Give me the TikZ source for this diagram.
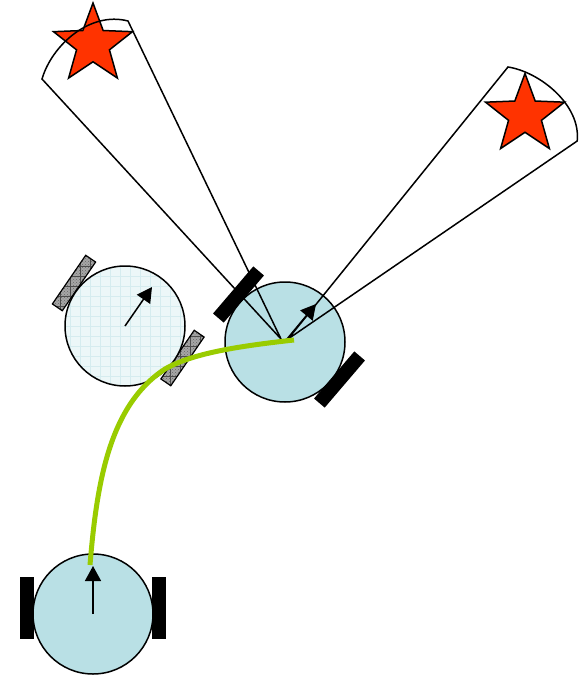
\documentclass[tikz,border=0pt]{standalone}
\usepackage{tikz}
\usetikzlibrary{arrows.meta, shapes.geometric, patterns}
\definecolor{Micuerpo}{RGB}{185,224,229}
\definecolor{Miclaro}{RGB}{236,247,248}
\definecolor{Mirojo}{RGB}{255,51,0}
\definecolor{Miverde}{RGB}{153,204,0}
\pgfdeclarepatternformonly{rejilla}{\pgfqpoint{-1pt}{-1pt}}{\pgfqpoint{10pt}{10pt}}{\pgfqpoint{10pt}{10pt}}{
  \pgfsetlinewidth{1pt}
  \pgfpathmoveto{\pgfqpoint{0pt}{-1pt}}\pgfpathlineto{\pgfqpoint{0pt}{10pt}}
  \pgfpathmoveto{\pgfqpoint{-1pt}{0pt}}\pgfpathlineto{\pgfqpoint{10pt}{0pt}}
  \pgfusepath{stroke}
}
\begin{document}
\begin{tikzpicture}[
  x=1pt, y=-1pt,
  cuerpo/.style={
    circle, draw=black, line width=1.5pt,
    minimum size=120pt, inner sep=0pt, fill=Micuerpo
  },
  fantasma/.style={
    circle, draw=black, line width=1.5pt,
    minimum size=120pt, inner sep=0pt,
    preaction={fill=Miclaro},
    preaction={pattern=rejilla, pattern color=Micuerpo!60}
  },
  rueda/.style={
    rectangle, fill=black, inner sep=0pt,
    minimum width=62pt, minimum height=14pt
  },
  ruedagris/.style={
    rectangle, draw=black, line width=1.2pt, inner sep=0pt,
    minimum width=59pt, minimum height=12pt,
    preaction={fill=gray!70},
    preaction={pattern=crosshatch dots, pattern color=black!60},
    preaction={pattern=rejilla, pattern color=black!70}
  },
  estrella/.style={
    star, star points=5, star point ratio=2.4, draw=black, line width=1.5pt,
    fill=Mirojo, minimum size=83pt, inner sep=0pt
  },
  rumbo/.style={-{Triangle[length=15pt, width=16pt]}, line width=1.5pt, draw=black},
  vista/.style={draw=black, line width=1.5pt, line join=miter},
  trayectoria/.style={draw=Miverde, line width=5pt}
]
  \useasboundingbox (0,0) rectangle (578,677);

  % --- Robot inicial ---
  \node[rueda, rotate=90] (ruedaA) at (27,608) {};
  \node[rueda, rotate=90] (ruedaB) at (159,608) {};
  \node[cuerpo] (inicio) at (93,614) {};
  \coordinate (puntaInicio) at (93,566);
  \draw[rumbo] (inicio.center) -- (puntaInicio);

  % --- Robot intermedio ---
  \node[ruedagris, rotate=55.6] (ruedaC) at (74,283) {};
  \node[ruedagris, rotate=55.6] (ruedaD) at (182.5,358) {};
  \node[fantasma] (medio) at (125,326) {};
  \coordinate (puntaMedio) at (152,287);
  \draw[rumbo] (medio.center) -- (puntaMedio);

  % --- Robot final ---
  \node[cuerpo] (final) at (285,342) {};

  % --- Estrellas ---
  \node[estrella] (estrellaA) at (93,44.5) {};
  \node[estrella] (estrellaB) at (525,115) {};

  % --- Campos de vision ---
  \coordinate (origenA) at (281,339);
  \coordinate (izqA) at (42,79);
  \coordinate (derA) at (128,21);
  \coordinate (origenB) at (288,339);
  \coordinate (izqB) at (508,67);
  \coordinate (derB) at (577.2,141);
  \draw[vista] (origenA) -- (izqA) .. controls (52,45) and (90,11) .. (derA) -- cycle;
  \draw[vista] (origenB) -- (izqB) .. controls (540,72) and (581,105) .. (derB) -- cycle;

  \node[rueda, rotate=49.5] (ruedaE) at (238.5,294.5) {};
  \node[rueda, rotate=49.5] (ruedaF) at (339.5,379.5) {};
  \coordinate (colaFinal) at (287,339);
  \coordinate (puntaFinal) at (316,304);
  \draw[rumbo] (colaFinal) -- (puntaFinal);

  % --- Trayectoria ---
  \coordinate (finTrayecto) at (294,340);
  \coordinate (inicioTrayecto) at (90,565);
  \coordinate (codoTrayecto) at (165,369);
  \draw[trayectoria] (inicioTrayecto) .. controls (97,480) and (110,405) .. (codoTrayecto)
    .. controls (193,353) and (240,346) .. (finTrayecto);
\end{tikzpicture}
\end{document}
